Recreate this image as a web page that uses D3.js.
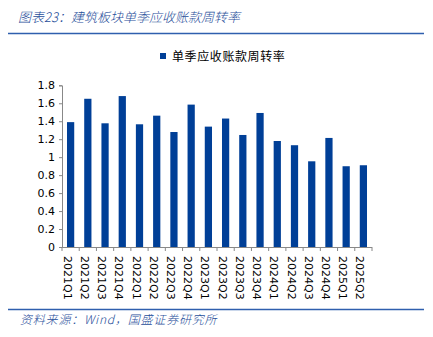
<!DOCTYPE html>
<html><head><meta charset="utf-8">
<script src="https://cdn.jsdelivr.net/npm/d3@7/dist/d3.min.js"></script>
<style>body{margin:0;background:#fff}svg{display:block}</style>
</head><body>
<script>
const categories = ["2021Q1","2021Q2","2021Q3","2021Q4","2022Q1","2022Q2","2022Q3","2022Q4","2023Q1","2023Q2","2023Q3","2023Q4","2024Q1","2024Q2","2024Q3","2024Q4","2025Q1","2025Q2"];
const values = [1.39,1.65,1.377,1.68,1.366,1.462,1.28,1.585,1.34,1.43,1.247,1.492,1.18,1.133,0.954,1.214,0.899,0.91];
const yTicks = [0,0.2,0.4,0.6,0.8,1,1.2,1.4,1.6,1.8];
const seriesName = "单季应收账款周转率";
const title = "图表23：建筑板块单季应收账款周转率";
const source = "资料来源：Wind，国盛证券研究所";

const W = 433, H = 337;
const blue = "#003f97", textBlue = "#1f4e9a";
const svg = d3.select("body").append("svg").attr("width", W).attr("height", H);
const fontCN = "'Noto Sans CJK SC', sans-serif";

svg.append("text").attr("x", 18).attr("y", 22).attr("fill", textBlue)
  .attr("font-family", fontCN).attr("font-size", 13).attr("font-style", "italic")
  .attr("font-weight", 300).text(title);
svg.append("line").attr("x1", 8).attr("x2", 424).attr("y1", 33.5).attr("y2", 33.5)
  .attr("stroke", "#2f5fae").attr("stroke-width", 1.5);

// legend
svg.append("rect").attr("x", 160).attr("y", 53).attr("width", 6).attr("height", 6).attr("fill", blue);
svg.append("text").attr("x", 172).attr("y", 60.5).attr("font-family", fontCN).attr("font-size", 12)
  .attr("letter-spacing", 0.6).attr("fill", "#000").text(seriesName);

const x = d3.scaleBand().domain(categories).range([62, 372]).paddingInner(0.58).paddingOuter(0.29);
const y = d3.scaleLinear().domain([0, 1.8]).range([247, 85.3]);

const gy = svg.append("g").attr("transform", "translate(62,0)")
  .call(d3.axisLeft(y).tickValues(yTicks).tickSize(3).tickPadding(4).tickFormat(d3.format("~g")));
gy.selectAll("text").attr("font-family", "'DejaVu Sans', sans-serif").attr("font-size", 11).attr("fill", "#000");
gy.selectAll("line,path").attr("stroke", "#888");

svg.append("g").selectAll("rect").data(values).join("rect")
  .attr("x", (d, i) => x(categories[i])).attr("width", x.bandwidth())
  .attr("y", d => y(d)).attr("height", d => y(0) - y(d)).attr("fill", blue);

const gx = svg.append("g").attr("transform", "translate(0,247)");
gx.append("line").attr("x1", 62).attr("x2", 372).attr("y1", 0.5).attr("y2", 0.5).attr("stroke", "#888");
const bounds = d3.range(categories.length + 1).map(i => 62 + i * (310 / categories.length));
gx.selectAll("line.t").data(bounds).join("line").attr("class", "t")
  .attr("x1", d => d).attr("x2", d => d).attr("y1", 0).attr("y2", 4).attr("stroke", "#888");
gx.selectAll("text").data(categories).join("text")
  .attr("transform", d => `translate(${x(d) + x.bandwidth() / 2 - 4},9) rotate(90)`)
  .attr("font-family", "'DejaVu Sans', sans-serif").attr("font-size", 11).attr("fill", "#000")
  .attr("dominant-baseline", "middle").text(d => d);

svg.append("line").attr("x1", 8).attr("x2", 424).attr("y1", 309.5).attr("y2", 309.5)
  .attr("stroke", "#2f5fae").attr("stroke-width", 1.5);
svg.append("text").attr("x", 20).attr("y", 324).attr("fill", textBlue)
  .attr("font-family", fontCN).attr("font-size", 12).attr("font-style", "italic")
  .attr("letter-spacing", 0.8).attr("font-weight", 300).text(source);
</script>
</body></html>
